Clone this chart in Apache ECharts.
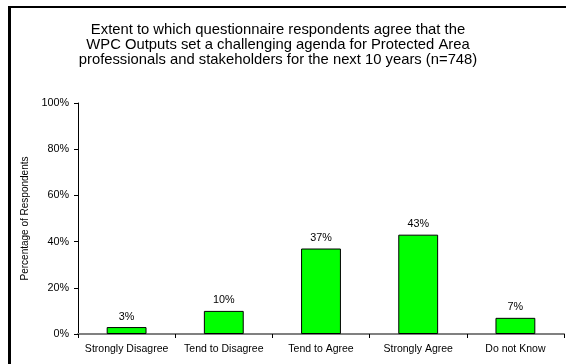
<!DOCTYPE html>
<html>
<head>
<meta charset="utf-8">
<style>
  html, body { margin: 0; padding: 0; background: #ffffff; }
  #chart { width: 566px; height: 364px; }
</style>
<script src="https://cdn.jsdelivr.net/npm/echarts@6/dist/echarts.min.js"></script>
</head>
<body>
<div id="chart"></div>
<script>
// Survey responses (percent of respondents)
const categories = ['Strongly Disagree', 'Tend to Disagree', 'Tend to Agree', 'Strongly Agree', 'Do not Know'];
const percentages = [3, 10, 37, 43, 7];
const yTicks = { min: 0, max: 100, interval: 20 };

const titleText = 'Extent to which questionnaire respondents agree that the\nWPC Outputs set a challenging agenda for Protected Area\nprofessionals and stakeholders for the next 10 years (n=748)';
const font = 'Arial, "Liberation Sans", sans-serif';

const chart = echarts.init(document.getElementById('chart'));
chart.setOption({
  backgroundColor: '#ffffff',
  animation: false,
  title: {
    text: titleText,
    left: 273,
    top: 17,
    textAlign: 'center',
    textStyle: { fontFamily: font, fontSize: 14.8, fontWeight: 'normal', color: '#000', lineHeight: 15.3 }
  },
  graphic: [
    { type: 'line', shape: { x1: 9.5, y1: 7, x2: 9.5, y2: 364 }, style: { stroke: '#000', lineWidth: 3 } },
    { type: 'line', shape: { x1: 8, y1: 7, x2: 566, y2: 7 }, style: { stroke: '#000', lineWidth: 2 } }
  ],
  grid: { left: 78, right: 2, top: 103, bottom: 30, containLabel: false },
  xAxis: {
    type: 'category',
    data: categories,
    axisLine: { lineStyle: { color: '#808080', width: 2 } },
    axisTick: { show: true, length: 4, lineStyle: { color: '#000' } },
    axisLabel: { fontFamily: font, fontSize: 10.5, color: '#000', margin: 10, interval: 0 }
  },
  yAxis: {
    type: 'value',
    min: yTicks.min,
    max: yTicks.max,
    interval: yTicks.interval,
    name: 'Percentage of Respondents',
    nameLocation: 'middle',
    nameGap: 43,
    nameTextStyle: { fontFamily: font, fontSize: 10, color: '#000' },
    axisLine: { show: true, lineStyle: { color: '#000', width: 1 } },
    axisTick: { show: true, length: 4, lineStyle: { color: '#000' } },
    splitLine: { show: false },
    axisLabel: { formatter: '{value}%', fontFamily: font, fontSize: 10.8, color: '#000', margin: 9 }
  },
  series: [{
    type: 'bar',
    data: percentages,
    barWidth: '41%',
    itemStyle: { color: '#00ff00', borderColor: '#000', borderWidth: 1 },
    label: {
      show: true,
      position: 'top',
      distance: 5,
      formatter: '{c}%',
      fontFamily: font,
      fontSize: 10.8,
      color: '#000'
    }
  }]
});
</script>
</body>
</html>
